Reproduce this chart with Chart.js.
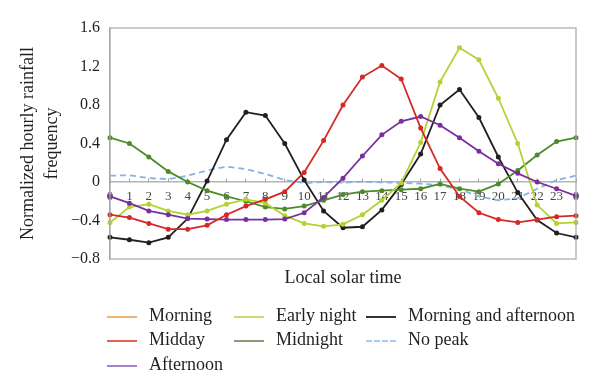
<!DOCTYPE html>
<html lang="en">
	<head>
		<meta charset="UTF-8" />
		<title>Normalized hourly rainfall frequency</title>
		<script src="https://cdn.jsdelivr.net/npm/chart.js"></script>
		<style>
			body {
				margin: 0;
				background: #fff;
				font-family: "Liberation Serif", "DejaVu Serif", serif;
			}
			#wrap {
				position: relative;
				width: 600px;
				height: 392px;
			}
			#legend {
				position: absolute;
				left: 0;
				top: 0;
				width: 600px;
				height: 392px;
				pointer-events: none;
			}
			.item {
				position: absolute;
				font-size: 18px;
				color: #231f20;
				line-height: 20px;
				white-space: nowrap;
			}
			.swatch {
				position: absolute;
				width: 30px;
				height: 0;
			}
		</style>
	</head>
	<body>
		<div id="wrap">
			<canvas id="rainChart"></canvas>
			<div id="legend"></div>
		</div>

		<script>
			// hours of local solar time (last point wraps round to 0)
			const hours = ["0", "1", "2", "3", "4", "5", "6", "7", "8", "9", "10", "11", "12",
				"13", "14", "15", "16", "17", "18", "19", "20", "21", "22", "23", "0"];

			const yTicks = [-0.8, -0.4, 0, 0.4, 0.8, 1.2, 1.6];

			const morning = [];
			const midday = [-0.34, -0.37, -0.43, -0.49, -0.49, -0.45, -0.34, -0.25, -0.18, -0.1, 0.1, 0.43,
				0.8, 1.09, 1.21, 1.07, 0.56, 0.14, -0.15, -0.32, -0.39, -0.42, -0.39, -0.36, -0.35];
			const afternoon = [-0.15, -0.22, -0.3, -0.34, -0.38, -0.385, -0.39, -0.39, -0.39, -0.385, -0.32, -0.16,
				0.04, 0.27, 0.49, 0.63, 0.68, 0.59, 0.46, 0.32, 0.19, 0.09, 0.0, -0.07, -0.145];
			const earlyNight = [-0.42, -0.26, -0.23, -0.3, -0.34, -0.3, -0.23, -0.18, -0.22, -0.35, -0.43, -0.46,
				-0.44, -0.34, -0.19, -0.01, 0.41, 1.04, 1.395, 1.27, 0.87, 0.4, -0.24, -0.43, -0.42];
			const midnight = [0.46, 0.4, 0.26, 0.11, 0.0, -0.09, -0.15, -0.2, -0.26, -0.28, -0.25, -0.19,
				-0.13, -0.1, -0.09, -0.08, -0.07, -0.02, -0.07, -0.1, -0.02, 0.12, 0.28, 0.42, 0.46];
			const morningAfternoon = [-0.575, -0.6, -0.63, -0.575, -0.38, 0.01, 0.44, 0.725, 0.69, 0.4, 0.02, -0.3,
				-0.475, -0.465, -0.29, -0.025, 0.29, 0.8, 0.96, 0.67, 0.26, -0.11, -0.395, -0.53, -0.575];
			const noPeak = [0.066, 0.07, 0.04, 0.03, 0.066, 0.12, 0.16, 0.135, 0.083, 0.02, -0.01, 0.0,
				-0.007, 0.003, -0.003, -0.01, -0.017, -0.035, -0.075, -0.15, -0.19, -0.17, -0.07, 0.02, 0.066];

			const serif = "'Liberation Serif', 'DejaVu Serif', serif";

			function line(label, data, color, extra) {
				return Object.assign({
					label: label,
					data: data,
					borderColor: color,
					backgroundColor: color,
					borderWidth: 1.8,
					pointRadius: 1.6,
					pointHoverRadius: 2,
					tension: 0,
					fill: false,
				}, extra || {});
			}

			const datasets = [
				line("Morning", morning, "#e8a33c"),
				line("Midday", midday, "#d42a26"),
				line("Afternoon", afternoon, "#7a2f9e"),
				line("Early night", earlyNight, "#b2d235"),
				line("Midnight", midnight, "#4e8a2c"),
				line("Morning and afternoon", morningAfternoon, "#231f20"),
				line("No peak", noPeak, "#86b3e3", { borderDash: [6, 4], pointRadius: 0 }),
			];

			// legend lines in the figure look a bit washed out
			const legendColors = ["#e9b66d", "#e0634f", "#a47fd0", "#c6df72", "#8c9a78", "#333333", "#a9c9ef"];
			const legendCols = [107, 234, 366];
			const legendRows = [316, 340, 365];

			const frame = {
				id: "frame",
				afterDatasetsDraw(chart) {
					const a = chart.chartArea;
					const ctx = chart.ctx;
					ctx.save();
					ctx.strokeStyle = "#a8a8a8";
					ctx.lineWidth = 1.2;
					ctx.strokeRect(a.left, a.top, a.right - a.left, a.bottom - a.top);
					ctx.restore();
				},
			};

			const ctx = document.getElementById("rainChart").getContext("2d");
			const chart = new Chart(ctx, {
				type: "line",
				data: { labels: hours, datasets: datasets },
				options: {
					responsive: true,
					maintainAspectRatio: false,
					animation: false,
					layout: { padding: { left: 0, top: 28, right: 24, bottom: 103 } },
					plugins: {
						legend: { display: false },
						tooltip: { enabled: false },
					},
					scales: {
						x: {
							type: "category",
							position: { y: 0 },
							offset: false,
							grid: { drawOnChartArea: false, tickLength: -4, color: "#a0a0a0" },
							border: { color: "#b4b4b4", width: 1.5 },
							ticks: {
								autoSkip: false,
								maxRotation: 0,
								padding: 11,
								color: "#444",
								font: { family: serif, size: 13 },
							},
						},
						x2: {
							type: "category",
							position: "bottom",
							offset: false,
							grid: { display: false },
							border: { display: false },
							ticks: { display: false },
							title: {
								display: true,
								text: "Local solar time",
								color: "#231f20",
								font: { family: serif, size: 18 },
								padding: { top: 6, bottom: 0 },
							},
							afterFit(scale) {
								scale.height = 30;
							},
						},
						y: {
							min: -0.8,
							max: 1.6,
							afterBuildTicks(scale) {
								scale.ticks = yTicks.map((v) => ({ value: v }));
							},
							grid: { display: false, drawTicks: false },
							border: { color: "#a8a8a8", width: 1.2 },
							ticks: {
								padding: 10,
								color: "#231f20",
								font: { family: serif, size: 16 },
								callback: (v) => (v === 0 ? "0" : v < 0 ? "\u2212" + Math.abs(v).toFixed(1) : v.toFixed(1)),
							},
							title: {
								display: true,
								text: ["Normalized hourly rainfall", "frequency"],
								color: "#231f20",
								font: { family: serif, size: 18, lineHeight: 1.33 },
								padding: { top: 16, bottom: 0 },
							},
							afterFit(scale) {
								scale.width = 110;
							},
						},
					},
				},
				plugins: [frame],
			});

			// legend, three columns like the figure
			const slots = [[0, 0], [0, 1], [0, 2], [1, 0], [1, 1], [2, 0], [2, 1]];
			const legend = document.getElementById("legend");
			chart.data.datasets.forEach((ds, i) => {
				const x = legendCols[slots[i][0]];
				const y = legendRows[slots[i][1]];
				const sw = document.createElement("div");
				sw.className = "swatch";
				sw.style.left = x + "px";
				sw.style.top = y + "px";
				sw.style.borderTop = "2px " + (ds.borderDash ? "dashed " : "solid ") + legendColors[i];
				legend.appendChild(sw);
				const tx = document.createElement("div");
				tx.className = "item";
				tx.style.left = x + 42 + "px";
				tx.style.top = y - 11 + "px";
				tx.textContent = ds.label;
				legend.appendChild(tx);
			});
		</script>
	</body>
</html>
